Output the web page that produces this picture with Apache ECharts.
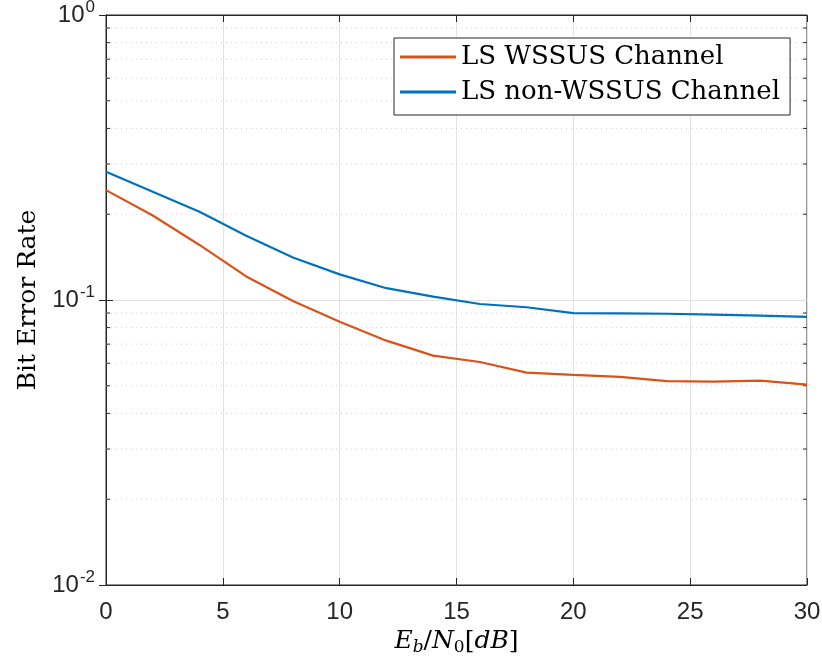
<!DOCTYPE html>
<html>
<head>
<meta charset="utf-8">
<script src="https://cdn.jsdelivr.net/npm/echarts@6/dist/echarts.min.js"></script>
<style>
  html, body { margin: 0; padding: 0; background: #fff; }
  #chart { width: 822px; height: 662px; }
</style>
</head>
<body>
<div id="chart"></div>
<script>
// Eb/N0 in dB
const snr = [0, 2, 4, 6, 8, 10, 12, 14, 16, 18, 20, 22, 24, 26, 28, 30]
const berWssus = [0.243, 0.198, 0.156, 0.121, 0.0992, 0.0839, 0.0720, 0.0638, 0.0606, 0.0556, 0.0546, 0.0537, 0.0519, 0.0517, 0.0521, 0.0505]
const berNonWssus = [0.282, 0.240, 0.204, 0.168, 0.141, 0.123, 0.110, 0.1027, 0.0968, 0.0943, 0.0900, 0.0898, 0.0895, 0.0888, 0.0881, 0.0872]
const minorTicks = [0.02, 0.03, 0.04, 0.05, 0.06, 0.07, 0.08, 0.09, 0.2, 0.3, 0.4, 0.5, 0.6, 0.7, 0.8, 0.9]
const seriesNames = ['LS WSSUS Channel', 'LS non-WSSUS Channel']

const chart = echarts.init(document.getElementById('chart'))

const axisColor = '#262626'
const tickFont = 'Liberation Sans, Arial, sans-serif'
const serif = 'DejaVu Serif, Liberation Serif, serif'

chart.setOption({
  animation: false,
  grid: {
    left: 106, right: 15, top: 15, bottom: 77,
    outerBoundsMode: 'none',
    show: true, borderColor: axisColor, borderWidth: 1
  },
  legend: {
    data: seriesNames,
    orient: 'vertical',
    left: 394, top: 38,
    backgroundColor: '#fff',
    borderColor: axisColor,
    borderWidth: 1,
    borderRadius: 0,
    padding: [4, 10, 8, 6],
    itemWidth: 56,
    itemHeight: 3,
    itemGap: 5,
    icon: 'rect',
    textStyle: { fontFamily: serif, fontSize: 26, lineHeight: 30, color: '#000' }
  },
  xAxis: [{
    type: 'value', min: 0, max: 30, interval: 5,
    name: '{i|E}{si|b}{r|/}{i|N}{sub|0}{r|[}{i|dB}{r|]}',
    nameLocation: 'middle', nameGap: 38,
    nameTextStyle: {
      rich: {
        i: { fontFamily: serif, fontStyle: 'italic', fontSize: 25, color: '#000' },
        r: { fontFamily: serif, fontSize: 25, color: '#000' },
        si: { fontFamily: serif, fontStyle: 'italic', fontSize: 17, color: '#000', padding: [12, 0, 0, 0] },
        sub: { fontFamily: serif, fontSize: 17, color: '#000', padding: [12, 0, 0, 0] }
      }
    },
    axisLine: { lineStyle: { color: axisColor } },
    axisTick: { inside: true, length: 7, lineStyle: { color: axisColor } },
    axisLabel: { fontFamily: tickFont, fontSize: 24, color: axisColor, margin: 15 },
    splitLine: { show: true, lineStyle: { color: '#e3e3e3', width: 1 } }
  }, {
    type: 'value', min: 0, max: 30, interval: 5, position: 'top',
    axisLine: { lineStyle: { color: axisColor } },
    axisTick: { inside: true, length: 7, lineStyle: { color: axisColor } },
    axisLabel: { show: false },
    splitLine: { show: false }
  }],
  yAxis: [{
    type: 'log', min: 0.01, max: 1, logBase: 10,
    name: 'Bit Error Rate',
    nameLocation: 'middle', nameGap: 64,
    nameTextStyle: { fontFamily: serif, fontSize: 25, color: '#000' },
    axisLine: { lineStyle: { color: axisColor } },
    axisTick: { inside: true, length: 7, lineStyle: { color: axisColor } },
    axisLabel: {
      margin: 11,
      formatter: v => '{b|10}{s|' + Math.round(Math.log10(v)) + '}',
      rich: {
        b: { fontFamily: tickFont, fontSize: 24, color: axisColor },
        s: { fontFamily: tickFont, fontSize: 17, color: axisColor, padding: [0, 0, 16, 1] }
      }
    },
    splitLine: { show: true, lineStyle: { color: '#e3e3e3', width: 1 } }
  }, {
    type: 'log', min: 0.01, max: 1, logBase: 10, position: 'right',
    axisLine: { lineStyle: { color: axisColor } },
    axisTick: { inside: true, length: 7, lineStyle: { color: axisColor } },
    axisLabel: { show: false },
    splitLine: { show: false }
  }],
  series: [
    {
      type: 'custom',
      silent: true,
      z: 1,
      data: minorTicks.map(v => [0, v]),
      renderItem: (params, api) => {
        const cs = params.coordSys
        const y = api.coord([0, api.value(1)])[1]
        const gray = { stroke: '#d0d0d0', lineWidth: 1, lineDash: [1, 4] }
        const dark = { stroke: axisColor, lineWidth: 1 }
        return {
          type: 'group',
          children: [
            { type: 'line', shape: { x1: cs.x, y1: y, x2: cs.x + cs.width, y2: y }, style: gray },
            { type: 'line', shape: { x1: cs.x, y1: y, x2: cs.x + 4, y2: y }, style: dark },
            { type: 'line', shape: { x1: cs.x + cs.width - 4, y1: y, x2: cs.x + cs.width, y2: y }, style: dark }
          ]
        }
      }
    },
    {
      name: seriesNames[0],
      type: 'line',
      data: snr.map((x, i) => [x, berWssus[i]]),
      showSymbol: false,
      z: 3,
      color: '#D95319',
      lineStyle: { width: 2.2, color: '#D95319' }
    },
    {
      name: seriesNames[1],
      type: 'line',
      data: snr.map((x, i) => [x, berNonWssus[i]]),
      showSymbol: false,
      z: 3,
      color: '#0072BD',
      lineStyle: { width: 2.2, color: '#0072BD' }
    }
  ]
})
</script>
</body>
</html>
